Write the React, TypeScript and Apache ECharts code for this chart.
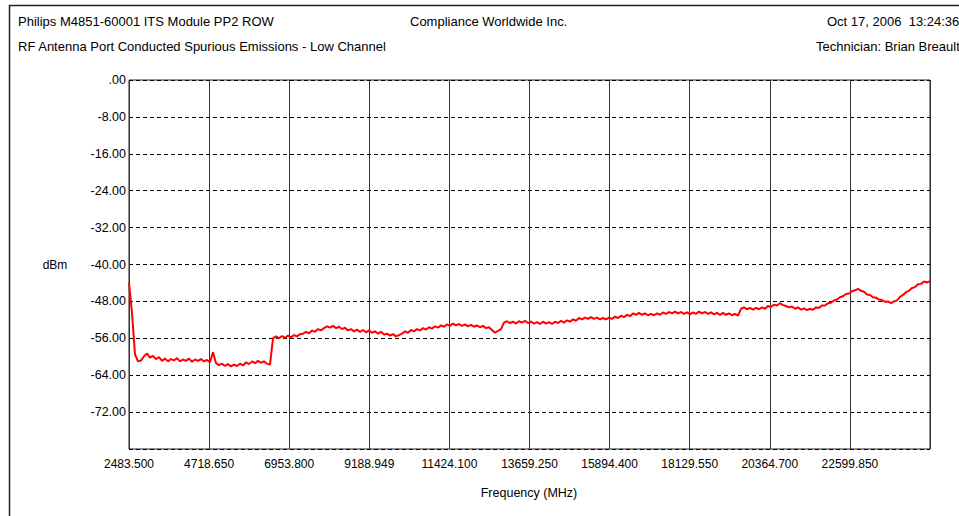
import React, { useEffect, useRef } from "react";
import * as echarts from "echarts";

// Sweep settings (MHz)
const START_MHZ = 2483.5;
const STOP_MHZ = 24835;
const GRID_STEP_MHZ = 2235.15;

// Tick labels as printed on the reference
const X_TICK_LABELS = [
  "2483.500", "4718.650", "6953.800", "9188.949", "11424.100",
  "13659.250", "15894.400", "18129.550", "20364.700", "22599.850", "",
];

// Header texts
const TITLE_LEFT = "Philips M4851-60001 ITS Module PP2 ROW";
const TITLE_CENTER = "Compliance Worldwide Inc.";
const TITLE_RIGHT = "Oct 17, 2006  13:24:36";
const SUBTITLE_LEFT = "RF Antenna Port Conducted Spurious Emissions - Low Channel";
const SUBTITLE_RIGHT = "Technician: Brian Breault";
const Y_UNIT = "dBm";
const X_NAME = "Frequency (MHz)";

// Y axis range
const Y_MIN = -80;
const Y_MAX = 0;
const Y_STEP = 8;

// Measured trace (dBm), equally spaced sweep points from START to STOP
const TRACE_DBM = [
  -44.0, -50.5, -59.5, -61.0, -60.8, -59.9, -59.3, -60.2, -59.8, -60.5,
  -60.1, -60.9, -60.4, -61.0, -60.5, -60.8, -60.3, -61.0, -60.6, -60.9,
  -60.4, -61.1, -60.6, -60.9, -60.5, -61.0, -60.7, -61.2, -59.0, -61.4,
  -61.8, -61.5, -62.0, -61.6, -62.1, -61.7, -62.0, -61.5, -61.9, -61.2,
  -61.6, -61.0, -61.4, -60.9, -61.3, -61.0, -61.5, -61.7, -56.0, -55.6,
  -56.0, -55.5, -55.9, -55.4, -55.8, -55.3, -55.6, -55.1, -55.0, -54.6,
  -54.9, -54.3, -54.6, -54.0, -54.3, -53.8, -53.4, -53.7, -53.3, -53.8,
  -53.5, -54.0, -53.7, -54.3, -54.0, -54.5, -54.1, -54.6, -54.2, -54.7,
  -54.3, -54.8, -54.5, -55.0, -54.6, -55.2, -55.0, -55.4, -55.1, -55.6,
  -55.3, -55.0, -54.5, -54.8, -54.2, -54.5, -54.0, -54.3, -53.8, -54.1,
  -53.6, -53.9, -53.4, -53.7, -53.2, -53.5, -53.0, -53.3, -52.8, -53.2,
  -52.9, -53.3, -53.0, -53.4, -53.1, -53.5, -53.2, -53.6, -53.3, -53.8,
  -53.6, -54.2, -54.8, -54.4, -54.0, -52.6, -52.3, -52.7, -52.4, -52.8,
  -52.3, -52.6, -52.2, -52.7, -52.4, -52.8, -52.5, -52.9, -52.4, -52.8,
  -52.5, -52.9, -52.4, -52.7, -52.2, -52.6, -52.1, -52.4, -51.9, -52.2,
  -51.6, -51.9, -51.5, -51.8, -51.4, -51.8, -51.5, -51.9, -51.6, -51.9,
  -51.5, -51.8, -51.3, -51.6, -51.1, -51.4, -50.9, -51.2, -50.6, -50.9,
  -50.5, -50.9, -50.6, -51.0, -50.7, -51.0, -50.6, -50.9, -50.4, -50.7,
  -50.3, -50.6, -50.2, -50.6, -50.3, -50.7, -50.4, -50.8, -50.4, -50.7,
  -50.2, -50.6, -50.3, -50.7, -50.4, -50.8, -50.5, -50.9, -50.5, -50.9,
  -50.6, -51.0, -50.7, -51.1, -49.6, -49.3, -49.7, -49.4, -49.8, -49.4,
  -49.7, -49.3, -49.6, -49.0, -49.2, -48.7, -48.9, -48.4, -48.8, -49.0,
  -49.3, -49.1, -49.6, -49.3, -49.8, -49.5, -49.9, -49.6, -49.8, -49.3,
  -49.4, -48.9, -48.9, -48.4, -48.3, -47.8, -47.6, -47.1, -46.9, -46.4,
  -46.3, -45.8, -45.6, -45.3, -45.7, -45.9, -46.5, -46.6, -47.1, -47.2,
  -47.6, -47.7, -48.1, -48.0, -48.4, -48.0, -47.8, -47.0, -46.6, -46.0,
  -45.7, -45.1, -44.9, -44.3, -44.2, -43.7, -43.9, -43.6,
];

const FONT = "'Liberation Sans', Arial, sans-serif";

export default function App() {
  const ref = useRef<HTMLDivElement>(null);

  useEffect(() => {
    if (!ref.current) return;
    const chart = echarts.init(ref.current, undefined, { renderer: "svg" });
    const n = TRACE_DBM.length;
    const span = STOP_MHZ - START_MHZ;
    // x expressed as offset from sweep start so the axis can start at 0
    const data = TRACE_DBM.map((v, i) => [(span * i) / (n - 1), v]);

    const textEl = (
      text: string,
      x: number,
      y: number,
      align = "left",
      size = 13
    ) => ({
      type: "text",
      x,
      y,
      silent: true,
      style: {
        text,
        fill: "#000",
        font: `${size}px ${FONT}`,
        textAlign: align,
        textVerticalAlign: "middle",
      },
    });

    chart.setOption({
      animation: false,
      backgroundColor: "#fff",
      grid: {
        left: 129,
        top: 80,
        right: 29,
        bottom: 67,
        show: true,
        borderColor: "#222",
        borderWidth: 1,
        backgroundColor: "transparent",
      },
      xAxis: {
        type: "value",
        min: 0,
        max: span,
        interval: GRID_STEP_MHZ,
        axisLine: { show: false },
        axisTick: { show: false },
        axisLabel: {
          color: "#000",
          fontFamily: FONT,
          fontSize: 12,
          margin: 9,
          showMaxLabel: false,
          formatter: (v: number) =>
            X_TICK_LABELS[Math.round(v / GRID_STEP_MHZ)] ?? "",
        },
        splitLine: {
          show: true,
          lineStyle: { color: "#333", width: 1, type: "solid" },
        },
      },
      yAxis: {
        type: "value",
        min: Y_MIN,
        max: Y_MAX,
        interval: Y_STEP,
        axisLine: { show: false },
        axisTick: { show: false },
        axisLabel: {
          color: "#000",
          fontFamily: FONT,
          fontSize: 12.5,
          margin: 3,
          showMinLabel: false,
          formatter: (v: number) =>
            v === Y_MIN ? "" : v === 0 ? ".00" : v.toFixed(2),
        },
        splitLine: {
          show: true,
          lineStyle: { color: "#000", width: 1, type: [4, 3] },
        },
      },
      series: [
        {
          type: "line",
          data,
          showSymbol: false,
          symbol: "none",
          lineStyle: { color: "#ff0000", width: 2 },
          itemStyle: { color: "#ff0000" },
          z: 5,
        },
      ],
      graphic: [
        {
          type: "rect",
          silent: true,
          shape: { x: 9.5, y: 5.5, width: 1000, height: 600 },
          style: { fill: "none", stroke: "#222", lineWidth: 1.5 },
        },
        textEl(TITLE_LEFT, 18, 21),
        textEl(TITLE_CENTER, 410, 21),
        textEl(TITLE_RIGHT, 827, 21),
        textEl(SUBTITLE_LEFT, 18, 46),
        textEl(SUBTITLE_RIGHT, 816, 46),
        textEl(Y_UNIT, 55, 265, "center", 12),
        textEl(X_NAME, 529, 493, "center", 12.5),
      ],
    });

    return () => chart.dispose();
  }, []);

  return (
    <div
      ref={ref}
      style={{ position: "absolute", left: 0, top: 0, width: 959, height: 516 }}
    />
  );
}
